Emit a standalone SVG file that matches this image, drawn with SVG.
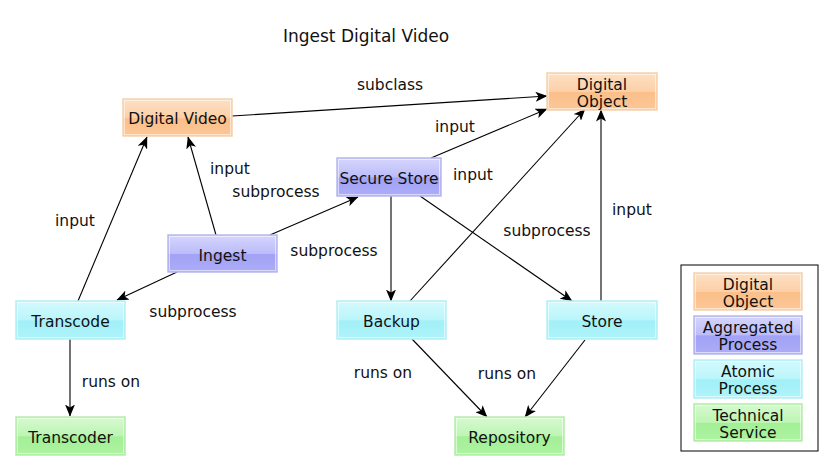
<svg xmlns="http://www.w3.org/2000/svg" width="830" height="472" viewBox="0 0 830 472">
  <defs>
    <linearGradient id="gOrange" x1="0" y1="0" x2="0" y2="1">
      <stop offset="0" stop-color="#fde0c4"/>
      <stop offset="0.5" stop-color="#fcd0a8"/>
      <stop offset="0.52" stop-color="#fbbf8a"/>
      <stop offset="1" stop-color="#fcc796"/>
    </linearGradient>
    <linearGradient id="gPurple" x1="0" y1="0" x2="0" y2="1">
      <stop offset="0" stop-color="#d6d6fc"/>
      <stop offset="0.5" stop-color="#bcbcfa"/>
      <stop offset="0.52" stop-color="#a2a2f6"/>
      <stop offset="1" stop-color="#acacf8"/>
    </linearGradient>
    <linearGradient id="gCyan" x1="0" y1="0" x2="0" y2="1">
      <stop offset="0" stop-color="#d4fafd"/>
      <stop offset="0.5" stop-color="#baf5fb"/>
      <stop offset="0.52" stop-color="#a2f0f8"/>
      <stop offset="1" stop-color="#aef3fa"/>
    </linearGradient>
    <linearGradient id="gGreen" x1="0" y1="0" x2="0" y2="1">
      <stop offset="0" stop-color="#d6fad0"/>
      <stop offset="0.5" stop-color="#bdf5b3"/>
      <stop offset="0.52" stop-color="#a3ef96"/>
      <stop offset="1" stop-color="#aef3a2"/>
    </linearGradient>
    <marker id="arrow" viewBox="0 0 12 10" refX="11.5" refY="5" markerWidth="12" markerHeight="10" markerUnits="userSpaceOnUse" orient="auto">
      <path d="M0,0 L12,5 L0,10 L3,5 Z" fill="#000"/>
    </marker>
  </defs>
  <style>
    text { font-family: "DejaVu Sans", "Liberation Sans", sans-serif; font-size: 15.5px; fill: #111; }
    .title { font-size: 17px; text-anchor: middle; }
    .lbl { text-anchor: middle; }
    .nt { text-anchor: middle; }
    .box { stroke-width: 1.5; }
    .inner { fill: none; stroke: #ffffff; stroke-opacity: 0.55; stroke-width: 1; }
    .orange { fill: url(#gOrange); stroke: #f6d2ae; }
    .purple { fill: url(#gPurple); stroke: #b8b8f0; }
    .cyan { fill: url(#gCyan); stroke: #b4f0f6; }
    .green { fill: url(#gGreen); stroke: #b2eea8; }
    .edge { fill: none; stroke: #000; stroke-width: 1.1; marker-end: url(#arrow); }
  </style>

  <rect width="830" height="472" fill="#ffffff"/>

  <text class="title" x="366" y="42">Ingest Digital Video</text>

  <!-- connectors -->
  <g id="connectors">
    <path class="edge" d="M232,116 L547,96"/>
    <path class="edge" d="M431,158 L547,109"/>
    <path class="edge" d="M410,301 L585,109"/>
    <path class="edge" d="M601,301 L601,110"/>
    <path class="edge" d="M216,235 L188,137"/>
    <path class="edge" d="M78,301 L147,137"/>
    <path class="edge" d="M270,235 L358,197"/>
    <path class="edge" d="M391,196 L391,301"/>
    <path class="edge" d="M420,196 L572,301"/>
    <path class="edge" d="M177,272 L117,300"/>
    <path class="edge" d="M70,339 L70,416"/>
    <path class="edge" d="M412,339 L487,417"/>
    <path class="edge" d="M585,340 L525,417"/>

    <text class="lbl" x="390" y="89.5">subclass</text>
    <text class="lbl" x="455" y="131.5">input</text>
    <text class="lbl" x="473" y="179.5">input</text>
    <text class="lbl" x="632" y="214.5">input</text>
    <text class="lbl" x="230" y="173.5">input</text>
    <text class="lbl" x="276" y="196.5">subprocess</text>
    <text class="lbl" x="75" y="225.5">input</text>
    <text class="lbl" x="334" y="255.5">subprocess</text>
    <text class="lbl" x="547" y="235.5">subprocess</text>
    <text class="lbl" x="193" y="316.5">subprocess</text>
    <text class="lbl" x="111" y="386.5">runs on</text>
    <text class="lbl" x="383" y="377.5">runs on</text>
    <text class="lbl" x="507" y="378.5">runs on</text>
  </g>

  <!-- nodes -->
  <g id="digital-video">
    <rect class="box orange" x="123" y="99" width="109" height="37"/>
    <rect class="inner" x="124.5" y="100.5" width="106" height="34"/>
    <text class="nt" x="177.5" y="124">Digital Video</text>
  </g>
  <g id="digital-object">
    <rect class="box orange" x="547" y="73" width="110" height="37"/>
    <rect class="inner" x="548.5" y="74.5" width="107" height="34"/>
    <text class="nt" x="602" y="90">Digital</text>
    <text class="nt" x="602" y="107">Object</text>
  </g>
  <g id="secure-store">
    <rect class="box purple" x="337" y="158" width="104" height="38"/>
    <rect class="inner" x="338.5" y="159.5" width="101" height="35"/>
    <text class="nt" x="389" y="184">Secure Store</text>
  </g>
  <g id="ingest">
    <rect class="box purple" x="168" y="235" width="109" height="37"/>
    <rect class="inner" x="169.5" y="236.5" width="106" height="34"/>
    <text class="nt" x="222.5" y="261">Ingest</text>
  </g>
  <g id="transcode">
    <rect class="box cyan" x="16" y="301" width="109" height="38"/>
    <rect class="inner" x="17.5" y="302.5" width="106" height="35"/>
    <text class="nt" x="70.5" y="327">Transcode</text>
  </g>
  <g id="backup">
    <rect class="box cyan" x="337" y="301" width="109" height="38"/>
    <rect class="inner" x="338.5" y="302.5" width="106" height="35"/>
    <text class="nt" x="391.5" y="327">Backup</text>
  </g>
  <g id="store">
    <rect class="box cyan" x="547" y="301" width="110" height="38"/>
    <rect class="inner" x="548.5" y="302.5" width="107" height="35"/>
    <text class="nt" x="602" y="327">Store</text>
  </g>
  <g id="transcoder">
    <rect class="box green" x="16" y="417" width="109" height="38"/>
    <rect class="inner" x="17.5" y="418.5" width="106" height="35"/>
    <text class="nt" x="70.5" y="443">Transcoder</text>
  </g>
  <g id="repository">
    <rect class="box green" x="455" y="417" width="109" height="38"/>
    <rect class="inner" x="456.5" y="418.5" width="106" height="35"/>
    <text class="nt" x="509.5" y="443">Repository</text>
  </g>

  <!-- legend -->
  <g id="legend">
    <rect x="681" y="265" width="137" height="186" fill="#ffffff" stroke="#000" stroke-width="1"/>
    <rect class="box orange" x="694" y="273" width="108" height="37"/>
    <rect class="inner" x="695.5" y="274.5" width="105" height="34"/>
    <text class="nt" x="748" y="290">Digital</text>
    <text class="nt" x="748" y="307">Object</text>
    <rect class="box purple" x="694" y="316" width="108" height="38"/>
    <rect class="inner" x="695.5" y="317.5" width="105" height="35"/>
    <text class="nt" x="748" y="333">Aggregated</text>
    <text class="nt" x="748" y="350">Process</text>
    <rect class="box cyan" x="694" y="360" width="108" height="38"/>
    <rect class="inner" x="695.5" y="361.5" width="105" height="35"/>
    <text class="nt" x="748" y="377">Atomic</text>
    <text class="nt" x="748" y="394">Process</text>
    <rect class="box green" x="694" y="404" width="108" height="37"/>
    <rect class="inner" x="695.5" y="405.5" width="105" height="34"/>
    <text class="nt" x="748" y="421">Technical</text>
    <text class="nt" x="748" y="438">Service</text>
  </g>
</svg>
